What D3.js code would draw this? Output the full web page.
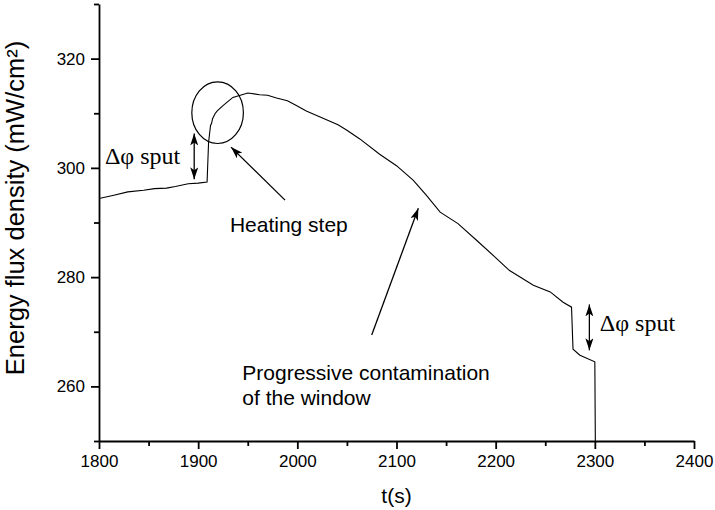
<!DOCTYPE html>
<html>
<head>
<meta charset="utf-8">
<script src="https://cdn.jsdelivr.net/npm/d3@7"></script>
<style>
  body { margin: 0; background: #fff; }
  svg { display: block; }
  .axis path, .axis line { stroke: #000; stroke-width: 1.8; }
  .axis text { font-family: "Liberation Sans", Arial, sans-serif; font-size: 17px; fill: #000; }
  .note { font-family: "Liberation Sans", Arial, sans-serif; font-size: 21px; fill: #000; }
  .greek { font-family: "Liberation Serif", "Times New Roman", serif; font-size: 24px; fill: #000; }
</style>
</head>
<body>
<svg width="715" height="510"></svg>
<script>
// data: time (s) and energy flux density (mW/cm²)
var times = [1800, 1815, 1829, 1845, 1856, 1868, 1877, 1890, 1900, 1909,
             1910.5, 1912.5, 1913.5, 1914.5, 1917, 1919, 1925, 1935, 1950, 1962,
             1970, 1979, 1990, 1999, 2009, 2023, 2041, 2050, 2063, 2083,
             2100, 2117, 2130, 2144, 2162, 2181, 2201, 2214, 2238, 2255,
             2268, 2276.5, 2278, 2285, 2300, 2300.5];
var flux  = [294.4, 295.0, 295.6, 295.9, 296.2, 296.3, 296.6, 297.1, 297.2, 297.4,
             304.7, 307.8, 308.1, 309.0, 309.9, 310.4, 311.4, 312.9, 313.7, 313.4,
             313.3, 312.8, 312.3, 311.4, 310.4, 309.3, 307.9, 306.9, 305.3, 302.5,
             300.4, 297.7, 295.0, 291.9, 289.8, 286.7, 283.4, 281.2, 278.5, 277.3,
             275.4, 274.5, 266.8, 265.7, 264.5, 250];

var xTicks = [1800, 1900, 2000, 2100, 2200, 2300, 2400];
var yTicks = [260, 280, 300, 320];

var svg = d3.select("svg"),
    margin = {top: 4, right: 21, bottom: 69, left: 99},
    width = +svg.attr("width") - margin.left - margin.right,
    height = +svg.attr("height") - margin.top - margin.bottom;

var x = d3.scaleLinear().domain([1800, 2400]).range([0, width]),
    y = d3.scaleLinear().domain([250, 330]).range([height, 0]);

var g = svg.append("g")
    .attr("transform", "translate(" + margin.left + "," + margin.top + ")");

// arrow heads
var defs = svg.append("defs");
defs.append("marker")
    .attr("id", "head")
    .attr("viewBox", "0 0 12 8")
    .attr("refX", 12).attr("refY", 4)
    .attr("markerWidth", 12).attr("markerHeight", 8)
    .attr("markerUnits", "userSpaceOnUse")
    .attr("orient", "auto-start-reverse")
  .append("path")
    .attr("d", "M0,0L12,4L0,8L3,4Z")
    .attr("fill", "#000");

// minor ticks first, majors on top
g.append("g")
    .attr("class", "axis")
    .attr("transform", "translate(0," + height + ")")
    .call(d3.axisBottom(x).tickValues(d3.range(1850, 2400, 100)).tickSize(5).tickFormat(""))
    .select(".domain").remove();
g.append("g")
    .attr("class", "axis")
    .call(d3.axisLeft(y).tickValues(d3.range(250, 331, 20)).tickSize(5).tickFormat(""))
    .select(".domain").remove();

g.append("g")
    .attr("class", "axis")
    .attr("transform", "translate(0," + height + ")")
    .call(d3.axisBottom(x).tickValues(xTicks).tickSize(8).tickSizeOuter(0).tickPadding(6).tickFormat(d3.format("d")));

g.append("g")
    .attr("class", "axis")
    .call(d3.axisLeft(y).tickValues(yTicks).tickSize(8).tickSizeOuter(0).tickPadding(6).tickFormat(d3.format("d")));

// axis titles
svg.append("text")
    .attr("class", "note")
    .attr("x", margin.left + width / 2)
    .attr("y", 503)
    .attr("text-anchor", "middle")
    .style("font-size", "21px")
    .text("t(s)");

svg.append("text")
    .attr("class", "note")
    .attr("transform", "translate(24,208) rotate(-90)")
    .attr("text-anchor", "middle")
    .style("font-size", "25.5px")
    .text("Energy flux density (mW/cm²)");

// the trace
var line = d3.line()
    .x(function(d, i) { return x(times[i]); })
    .y(function(d) { return y(d); });

g.append("path")
    .datum(flux)
    .attr("fill", "none")
    .attr("stroke", "#000")
    .attr("stroke-width", 1.1)
    .attr("d", line);

// annotations
g.append("ellipse")
    .attr("cx", x(1919.6)).attr("cy", y(310.1))
    .attr("rx", x(1945.6) - x(1919.6))
    .attr("ry", y(310.1) - y(315.74))
    .attr("fill", "none")
    .attr("stroke", "#000")
    .attr("stroke-width", 1.2);

function arrow(t0, v0, t1, v1, both) {
  g.append("line")
      .attr("x1", x(t0)).attr("y1", y(v0))
      .attr("x2", x(t1)).attr("y2", y(v1))
      .attr("stroke", "#000")
      .attr("stroke-width", 1.3)
      .attr("marker-end", "url(#head)")
      .attr("marker-start", both ? "url(#head)" : null);
}

arrow(1896, 297.9, 1896, 306.3, true);
arrow(2294.5, 266.6, 2294.5, 275.0, true);
arrow(1987.6, 294.1, 1933.1, 303.8, false);
arrow(2075, 269.4, 2122, 292.6, false);

g.append("text").attr("class", "greek")
    .attr("x", x(1806)).attr("y", y(300.8))
    .text("Δφ sput");
g.append("text").attr("class", "greek")
    .attr("x", x(2305)).attr("y", y(270.1))
    .text("Δφ sput");

g.append("text").attr("class", "note")
    .attr("x", x(1932)).attr("y", y(288.2))
    .text("Heating step");

g.append("text").attr("class", "note")
    .attr("x", x(1944.5)).attr("y", y(261.1))
    .text("Progressive contamination");
g.append("text").attr("class", "note")
    .attr("x", x(1944.5)).attr("y", y(256.5))
    .text("of the window");
</script>
</body>
</html>
